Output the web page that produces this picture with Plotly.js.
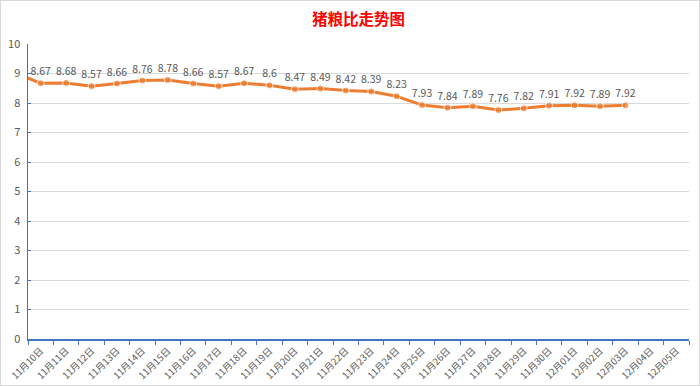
<!DOCTYPE html>
<html>
<head>
<meta charset="utf-8">
<script src="https://cdn.plot.ly/plotly-3.0.1.min.js"></script>
<style>
  html, body { margin: 0; padding: 0; background: #fff; }
  #wrap { position: relative; width: 700px; height: 386px; }
  #chart { width: 700px; height: 386px; }
  #frame { position: absolute; left: 0; top: 0; width: 698px; height: 384px; border: 1px solid #d9d9d9; pointer-events: none; }
</style>
</head>
<body>
<div id="wrap"><div id="chart"></div><div id="frame"></div></div>
<script>
// Category labels (x axis)
const categories = ["11月10日","11月11日","11月12日","11月13日","11月14日","11月15日","11月16日","11月17日","11月18日","11月19日","11月20日","11月21日","11月22日","11月23日","11月24日","11月25日","11月26日","11月27日","11月28日","11月29日","11月30日","12月01日","12月02日","12月03日","12月04日","12月05日"];
// Pig-grain ratio values (11月10日 .. 12月03日)
const ratioValues = [8.67,8.68,8.57,8.66,8.76,8.78,8.66,8.57,8.67,8.6,8.47,8.49,8.42,8.39,8.23,7.93,7.84,7.89,7.76,7.82,7.91,7.92,7.89,7.92];
// Value of the day before the visible window (line enters from the left edge)
const previousValue = 9.01;
const yTicks = [0,1,2,3,4,5,6,7,8,9,10];

const catIdx = categories.map((c, i) => i);
const xs = [-1].concat(ratioValues.map((v, i) => i));
const ys = [previousValue].concat(ratioValues);
const markerSizes = [0].concat(ratioValues.map(() => 7));
const labels = [""].concat(ratioValues.map(v => String(v)));
const boundaries = categories.map((c, i) => i - 0.5).concat([categories.length - 0.5]);

const orange = "#ED7D31";
const blue = "#4472C4";
const gray = "#595959";
const font = "'Noto Sans CJK SC', 'Noto Sans', sans-serif";

const trace = {
  type: "scatter",
  mode: "lines+markers+text",
  x: xs,
  y: ys,
  text: labels,
  textposition: "top center",
  textfont: { family: font, size: 10.5, color: gray },
  line: { color: orange, width: 3 },
  marker: { color: orange, size: markerSizes },
  cliponaxis: true,
  hoverinfo: "skip"
};

const layout = {
  width: 700,
  height: 386,
  margin: { l: 28, r: 11, t: 44, b: 47, pad: 0 },
  paper_bgcolor: "#ffffff",
  plot_bgcolor: "#ffffff",
  showlegend: false,
  font: { family: font, color: gray },
  title: {
    text: "<b>猪粮比走势图</b>",
    font: { family: font, size: 15.5, color: "#FF0000" },
    x: 0.5, xref: "paper", xanchor: "center",
    y: 1 - 20 / 386, yref: "container", yanchor: "middle"
  },
  xaxis: {
    range: [-0.5, categories.length - 0.5],
    tickmode: "array",
    tickvals: catIdx,
    ticktext: categories,
    tickangle: -45,
    ticks: "",
    ticklabelstandoff: 1,
    tickfont: { family: font, size: 9.5, color: gray },
    showgrid: false,
    zeroline: false,
    showline: true,
    linecolor: blue,
    linewidth: 1.5,
    fixedrange: true,
    automargin: false,
    minor: {
      tickmode: "array",
      tickvals: boundaries,
      ticks: "outside",
      ticklen: 4,
      tickwidth: 1,
      tickcolor: blue,
      showgrid: false
    }
  },
  yaxis: {
    range: [0, 10],
    tickmode: "array",
    tickvals: yTicks,
    ticktext: yTicks.map(String),
    ticks: "inside",
    ticklen: 3,
    tickcolor: blue,
    tickwidth: 1,
    ticklabelstandoff: 4,
    tickfont: { family: font, size: 11, color: gray },
    showgrid: true,
    gridcolor: "#d9d9d9",
    gridwidth: 1,
    zeroline: false,
    showline: true,
    linecolor: blue,
    linewidth: 1.5,
    fixedrange: true,
    automargin: false
  }
};

Plotly.newPlot("chart", [trace], layout, { displayModeBar: false, staticPlot: true });
</script>
</body>
</html>
